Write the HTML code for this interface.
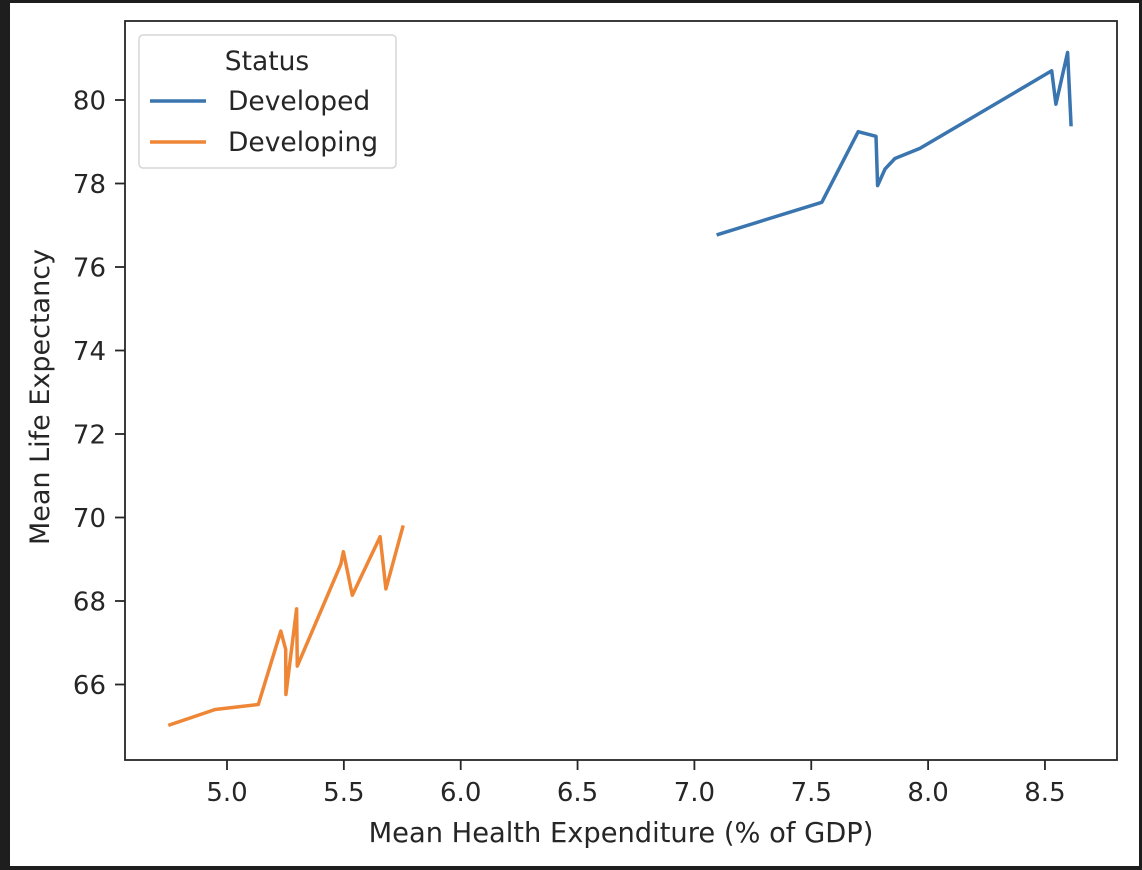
<!DOCTYPE html>
<html><head><meta charset="utf-8"><style>
html,body{margin:0;padding:0;background:#1e1e1e;}
svg{display:block;font-family:"DejaVu Sans","Liberation Sans",sans-serif;}
</style></head><body>
<svg id="chart" width="1142" height="870" xmlns="http://www.w3.org/2000/svg">
<rect x="10" y="3" width="1129" height="863" fill="#fff"/>
<g id="plot"></g>
<text x="621" y="842" font-size="27.3" fill="#262626" text-anchor="middle">Mean Health Expenditure (% of GDP)</text>
<text transform="translate(49,397) rotate(-90)" font-size="27" fill="#262626" text-anchor="middle">Mean Life Expectancy</text>
<g>
<rect x="139" y="35" width="257" height="133" rx="4" fill="#fff" stroke="#d6d6d6" stroke-width="1.5"/>
<text x="267" y="70" font-size="26.5" fill="#262626" text-anchor="middle">Status</text>
<line x1="150" y1="101" x2="206" y2="101" stroke="#3a75af" stroke-width="3.5"/>
<text x="228" y="110" font-size="26.5" fill="#262626">Developed</text>
<line x1="150" y1="142" x2="206" y2="142" stroke="#ee8636" stroke-width="3.5"/>
<text x="228" y="151" font-size="26.5" fill="#262626">Developing</text>
</g>
</svg>
<script>
const xTicks=[5.0,5.5,6.0,6.5,7.0,7.5,8.0,8.5];
const xTickLabels=["5.0","5.5","6.0","6.5","7.0","7.5","8.0","8.5"];
const yTicks=[66,68,70,72,74,76,78,80];
const yTickLabels=["66","68","70","72","74","76","78","80"];
const developedX=[7.095,7.545,7.701,7.777,7.784,7.816,7.858,7.965,8.529,8.547,8.597,8.612];
const developedY=[76.77,77.55,79.24,79.13,77.95,78.35,78.60,78.84,80.70,79.90,81.14,79.37];
const developingX=[4.749,4.949,5.134,5.230,5.251,5.252,5.298,5.301,5.487,5.498,5.536,5.655,5.680,5.754];
const developingY=[65.02,65.40,65.52,67.28,66.84,65.76,67.81,66.44,68.88,69.18,68.14,69.54,68.29,69.81];
const L=125,R=1117,T=21,B=760;
function xs(v){return 227+(v-5)*233.7;}
function ys(v){return 100+(80-v)*41.75;}
const NS="http://www.w3.org/2000/svg";
const g=document.getElementById('plot');
function mk(t,a){const e=document.createElementNS(NS,t);for(const k in a)e.setAttribute(k,a[k]);g.appendChild(e);return e;}
xTicks.forEach((v,i)=>{
 const t=mk('line',{x1:xs(v),x2:xs(v),y1:B,y2:B+10,stroke:'#262626','stroke-width':1.8});
 
 
 const l=mk('text',{x:xs(v),y:B+41,'font-size':26,fill:'#262626','text-anchor':'middle'});
 l.textContent=xTickLabels[i];
 
 
});
yTicks.forEach((v,i)=>{
 const t=mk('line',{x1:L-10,x2:L,y1:ys(v),y2:ys(v),stroke:'#262626','stroke-width':1.8});
 
 
 const l=mk('text',{x:L-19,y:ys(v)+9.5,'font-size':26,fill:'#262626','text-anchor':'end'});
 l.textContent=yTickLabels[i];
 
 
});
function path(xa,ya){return xa.map((x,i)=>(i?'L':'M')+xs(x).toFixed(1)+','+ys(ya[i]).toFixed(1)).join(' ');}
const p1=mk('path',{d:path(developedX,developedY),fill:'none',stroke:'#3a75af','stroke-width':3.5,'stroke-linejoin':'round'});


const p2=mk('path',{d:path(developingX,developingY),fill:'none',stroke:'#ee8636','stroke-width':3.5,'stroke-linejoin':'round'});


const fr=mk('rect',{x:L,y:T,width:R-L,height:B-T,fill:'none',stroke:'#262626','stroke-width':1.8});


</script>
</body></html>
